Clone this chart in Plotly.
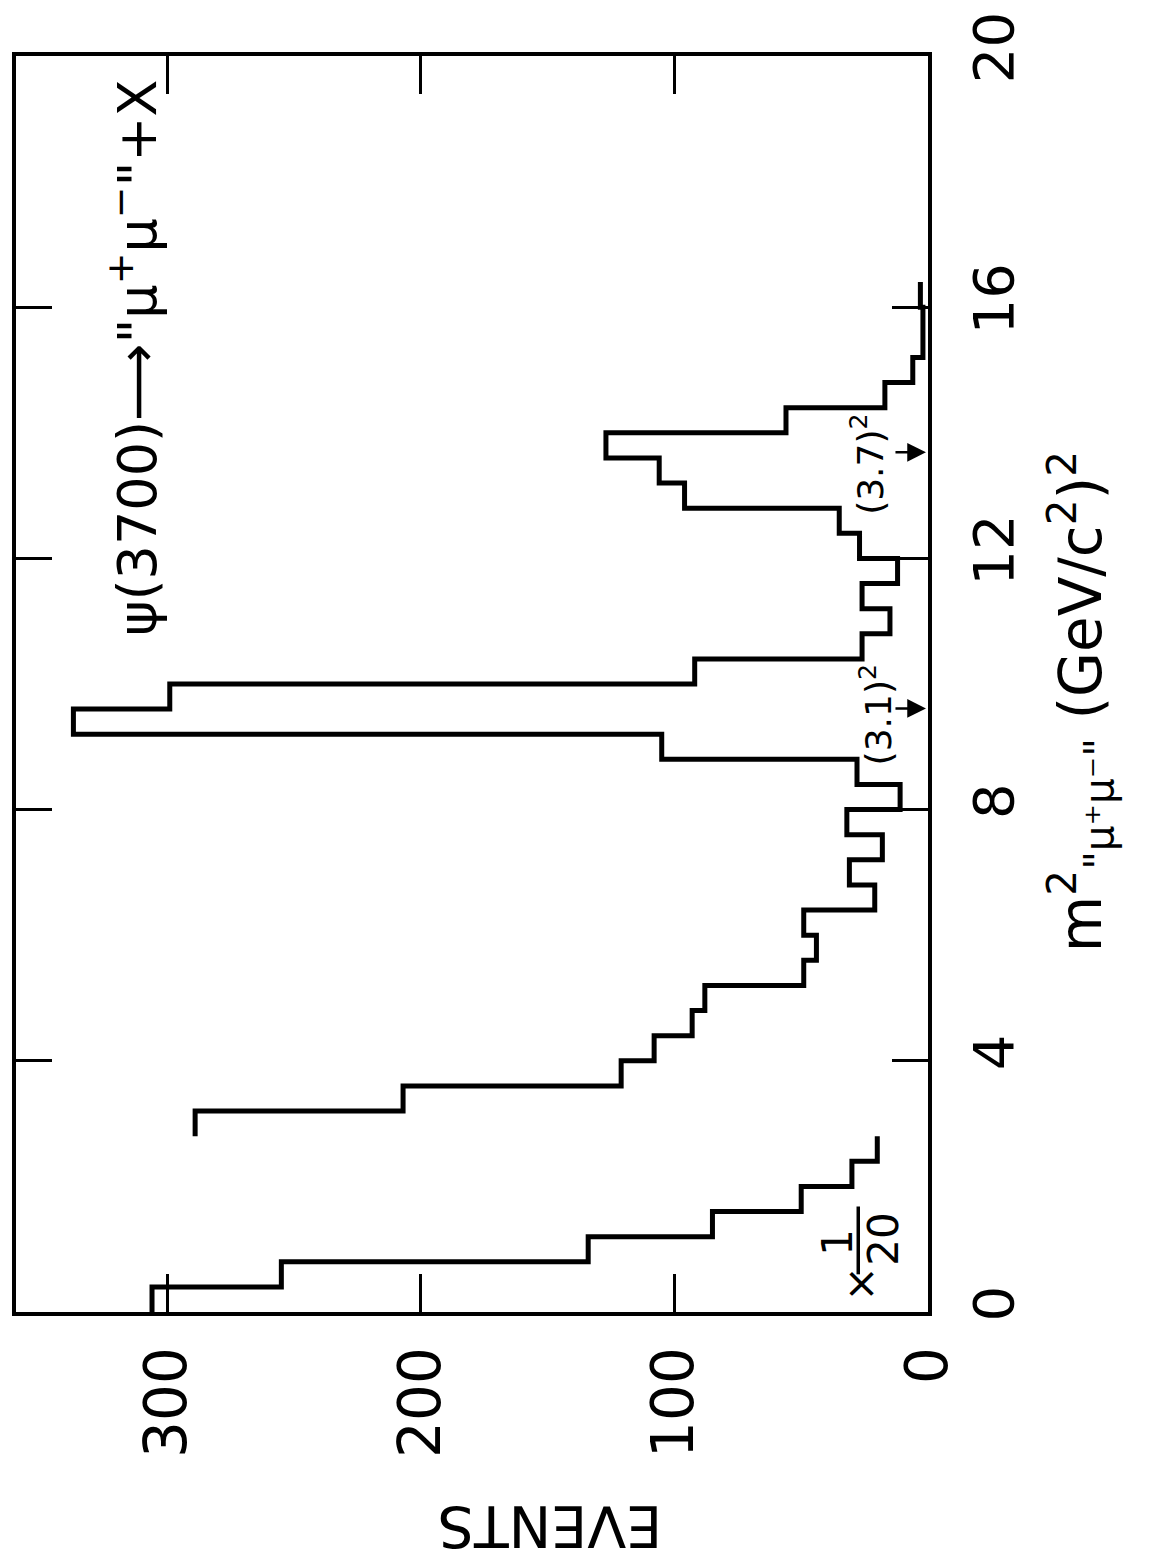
import plotly.graph_objects as go

# ---------------- data ----------------
# bins of 0.4 (GeV/c^2)^2
low_edges = [0.0, 0.4, 0.8, 1.2, 1.6, 2.0, 2.4, 2.8]
low_counts_x1_20 = [306, 255, 134, 85, 50, 30, 20]          # drawn scaled by 1/20

high_edges = [2.8, 3.2, 3.6, 4.0, 4.4, 4.8, 5.2, 5.6, 6.0, 6.4, 6.8, 7.2,
              7.6, 8.0, 8.4, 8.8, 9.2, 9.6, 10.0, 10.4, 10.8, 11.2, 11.6,
              12.0, 12.4, 12.8, 13.2, 13.6, 14.0, 14.4, 14.8, 15.2, 15.6,
              16.0, 16.4]
high_counts = [289, 207, 121, 108, 93, 88, 49, 44, 49, 21, 31, 18, 32, 11,
               28, 105, 337, 299, 92, 26, 15, 26, 12, 27, 35, 96, 106, 127,
               56, 17, 6, 2, 2, 3]

event_ticks = [0, 100, 200, 300]
m2_ticks = [0, 4, 8, 12, 16, 20]
marker_masses = [3.1, 3.7]   # GeV/c^2, arrows at m^2

FONT = "DejaVu Sans"


def step_path(edges, counts):
    xs, ys = [], []
    for i, c in enumerate(counts):
        xs += [c, c]
        ys += [edges[i], edges[i + 1]]
    return xs, ys


fig = go.Figure()
for edges, counts in ((low_edges, low_counts_x1_20), (high_edges, high_counts)):
    xs, ys = step_path(edges, counts)
    fig.add_trace(go.Scatter(x=xs, y=ys, mode="lines",
                             line=dict(color="black", width=5),
                             hoverinfo="skip", showlegend=False))

# plot area in pixels: left 12, right 928, top 46, bottom 1312
L, R, T, B = 12, 928, 46, 1312
W, H = 1153, 1560


def px(xp):
    return (xp - L) / (R - L)


def py(yp):
    return (B - yp) / (B - T)


annotations = []
# title
annotations.append(dict(
    text='ψ(3700)⟶"μ<sup>+</sup>μ<sup>−</sup>"+X',
    x=px(130), y=py(350), xref="paper", yref="paper",
    textangle=-90, showarrow=False, xanchor="center", yanchor="middle",
    font=dict(family=FONT, size=54, color="black")))
# axis label (m^2)
annotations.append(dict(
    text='m<sup>2</sup><sub>"μ⁺μ⁻"</sub> (GeV/c<sup>2</sup>)<sup>2</sup>',
    x=px(1082), y=py(697), xref="paper", yref="paper",
    textangle=-90, showarrow=False, xanchor="center", yanchor="middle",
    font=dict(family=FONT, size=58, color="black")))
# EVENTS (upside down)
annotations.append(dict(
    text="EVENTS", x=px(548), y=py(1527), xref="paper", yref="paper",
    textangle=180, showarrow=False, xanchor="center", yanchor="middle",
    font=dict(family=FONT, size=57, color="black")))
# x 1/20
annotations.append(dict(text="×", x=26.5, y=0.45, xref="x", yref="y",
                        textangle=-90, showarrow=False,
                        font=dict(family=FONT, size=42, color="black")))
annotations.append(dict(text="1", x=35.5, y=1.12, xref="x", yref="y",
                        textangle=-90, showarrow=False,
                        font=dict(family=FONT, size=42, color="black")))
annotations.append(dict(text="20", x=17.5, y=1.16, xref="x", yref="y",
                        textangle=-90, showarrow=False,
                        font=dict(family=FONT, size=42, color="black")))
# mass markers
label_offsets = {3.1: (20.5, 9.5), 3.7: (23.8, 13.5)}
for m in marker_masses:
    lx, ly = label_offsets[m]
    annotations.append(dict(text="(%.1f)<sup>2</sup>" % m, x=lx, y=ly,
                            xref="x", yref="y", textangle=-90, showarrow=False,
                            font=dict(family=FONT, size=36, color="black")))
    annotations.append(dict(text="", x=0.8, y=m * m, xref="x", yref="y",
                            ax=-32, ay=0, showarrow=True, arrowhead=2,
                            arrowsize=1.5, arrowwidth=2.5, arrowcolor="black"))

shapes = [dict(type="line", xref="x", yref="y", x0=27.5, x1=27.5,
               y0=0.6, y1=1.68, line=dict(color="black", width=3.5))]

fig.update_layout(
    width=W, height=H,
    margin=dict(l=L, r=W - R, t=T, b=H - B, pad=0),
    paper_bgcolor="white", plot_bgcolor="white",
    showlegend=False,
    annotations=annotations, shapes=shapes,
    xaxis=dict(range=[(R - L) / 2.547, 0], autorange=False,
               tickvals=event_ticks, ticktext=[str(v) for v in event_ticks],
               ticks="inside", ticklen=38, tickwidth=3, tickcolor="black",
               tickangle=-90, ticklabelstandoff=8,
               tickfont=dict(family=FONT, size=58, color="black"),
               showline=True, linewidth=4, linecolor="black", mirror="ticks",
               showgrid=False, zeroline=False),
    yaxis=dict(range=[0, 20], autorange=False, side="right",
               tickvals=m2_ticks, ticktext=[str(v) for v in m2_ticks],
               ticks="inside", ticklen=36, tickwidth=3, tickcolor="black",
               tickangle=-90, ticklabelstandoff=14,
               tickfont=dict(family=FONT, size=56, color="black"),
               showline=True, linewidth=4, linecolor="black", mirror="ticks",
               showgrid=False, zeroline=False),
)

fig.write_html("out.html",
               config={"displayModeBar": False},
               post_script="document.body.style.margin='0px';")
